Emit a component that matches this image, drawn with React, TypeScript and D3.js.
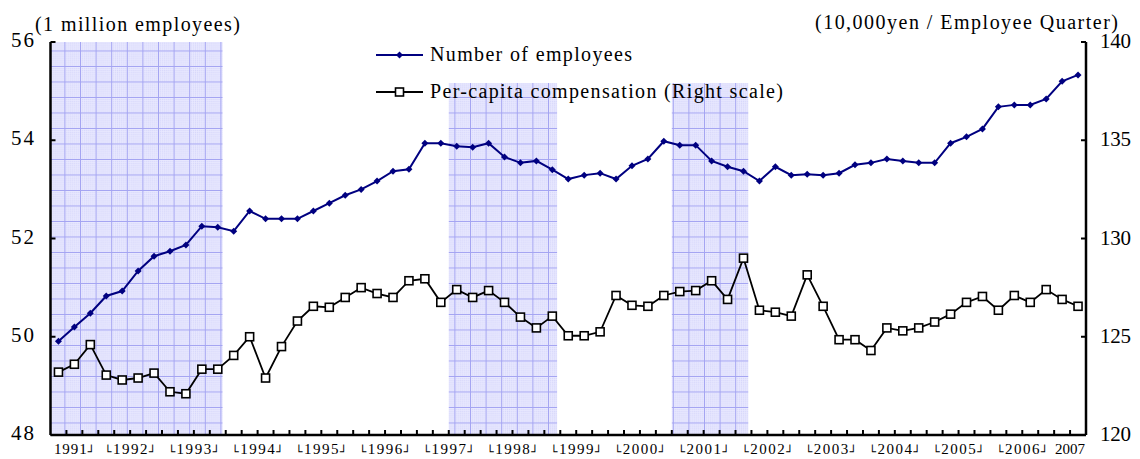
import React from "react";
import * as d3 from "d3";

// quarters 1991Q2 .. 2007Q2
const quarters = [
  "1991Q2", "1991Q3", "1991Q4",
  "1992Q1", "1992Q2", "1992Q3", "1992Q4",
  "1993Q1", "1993Q2", "1993Q3", "1993Q4",
  "1994Q1", "1994Q2", "1994Q3", "1994Q4",
  "1995Q1", "1995Q2", "1995Q3", "1995Q4",
  "1996Q1", "1996Q2", "1996Q3", "1996Q4",
  "1997Q1", "1997Q2", "1997Q3", "1997Q4",
  "1998Q1", "1998Q2", "1998Q3", "1998Q4",
  "1999Q1", "1999Q2", "1999Q3", "1999Q4",
  "2000Q1", "2000Q2", "2000Q3", "2000Q4",
  "2001Q1", "2001Q2", "2001Q3", "2001Q4",
  "2002Q1", "2002Q2", "2002Q3", "2002Q4",
  "2003Q1", "2003Q2", "2003Q3", "2003Q4",
  "2004Q1", "2004Q2", "2004Q3", "2004Q4",
  "2005Q1", "2005Q2", "2005Q3", "2005Q4",
  "2006Q1", "2006Q2", "2006Q3", "2006Q4",
  "2007Q1", "2007Q2",
];

// million employees (left scale)
const employees = [
  49.91, 50.2, 50.48,
  50.83, 50.93, 51.34, 51.64,
  51.74, 51.87, 52.25, 52.23,
  52.15, 52.56, 52.4, 52.4,
  52.4, 52.56, 52.72, 52.88,
  53.0, 53.17, 53.37, 53.41,
  53.94, 53.94, 53.88, 53.86,
  53.94, 53.66, 53.54, 53.58,
  53.4, 53.21, 53.29, 53.33,
  53.21, 53.48, 53.62, 53.98,
  53.9, 53.9, 53.58, 53.46,
  53.37, 53.17, 53.46, 53.29,
  53.31, 53.29, 53.33, 53.5,
  53.54, 53.62, 53.58, 53.54,
  53.54, 53.94, 54.07, 54.23,
  54.68, 54.72, 54.72, 54.84,
  55.2, 55.33,
];

// 10,000 yen per employee-quarter (right scale)
const compensation = [
  123.2, 123.6, 124.6,
  123.05, 122.8, 122.9, 123.15,
  122.2, 122.1, 123.35, 123.35,
  124.05, 125.0, 122.9, 124.5,
  125.8, 126.55, 126.5, 127.0,
  127.5, 127.2, 127.0, 127.85,
  127.95, 126.75, 127.4, 127.0,
  127.35, 126.75, 126.0, 125.45,
  126.05, 125.05, 125.05, 125.25,
  127.1, 126.6, 126.55, 127.1,
  127.3, 127.35, 127.85, 126.9,
  129.0, 126.35, 126.25, 126.05,
  128.15, 126.55, 124.85, 124.85,
  124.3, 125.45, 125.3, 125.45,
  125.75, 126.15, 126.75, 127.05,
  126.35, 127.1, 126.75, 127.4,
  126.9, 126.55,
];

const leftTicks = [48, 50, 52, 54, 56];
const rightTicks = [120, 125, 130, 135, 140];

// year labels with their bracket marks and the quarters they span
const yearLabels = [
  { pre: "", year: "1991", post: "┘", from: "1991Q2", to: "1991Q4" },
  { pre: "└", year: "1992", post: "┘", from: "1992Q1", to: "1992Q4" },
  { pre: "└", year: "1993", post: "┘", from: "1993Q1", to: "1993Q4" },
  { pre: "└", year: "1994", post: "┘", from: "1994Q1", to: "1994Q4" },
  { pre: "└", year: "1995", post: "┘", from: "1995Q1", to: "1995Q4" },
  { pre: "└", year: "1996", post: "┘", from: "1996Q1", to: "1996Q4" },
  { pre: "└", year: "1997", post: "┘", from: "1997Q1", to: "1997Q4" },
  { pre: "└", year: "1998", post: "┘", from: "1998Q1", to: "1998Q4" },
  { pre: "└", year: "1999", post: "┘", from: "1999Q1", to: "1999Q4" },
  { pre: "└", year: "2000", post: "┘", from: "2000Q1", to: "2000Q4" },
  { pre: "└", year: "2001", post: "┘", from: "2001Q1", to: "2001Q4" },
  { pre: "└", year: "2002", post: "┘", from: "2002Q1", to: "2002Q4" },
  { pre: "└", year: "2003", post: "┘", from: "2003Q1", to: "2003Q4" },
  { pre: "└", year: "2004", post: "┘", from: "2004Q1", to: "2004Q4" },
  { pre: "└", year: "2005", post: "┘", from: "2005Q1", to: "2005Q4" },
  { pre: "└", year: "2006", post: "┘", from: "2006Q1", to: "2006Q4" },
  { pre: "", year: "2007", post: "", from: "2007Q1", to: "2007Q2" },
];

// recession shading
const recessions = [
  ["1991Q2", "1993Q4"],
  ["1997Q3", "1999Q1"],
  ["2001Q1", "2002Q1"],
];

const W = 1140;
const H = 459;
const left = 50.5;
const right = 1086;
const top = 42;
const bottom = 435;
const font = "'Liberation Serif', 'Times New Roman', serif";

export default function App() {
  const x = d3.scaleBand().domain(quarters).range([left, right]).padding(0);
  const bw = x.bandwidth();
  const cx = (q: string) => (x(q) as number) + bw / 2;
  const yL = d3.scaleLinear().domain([48, 56]).range([bottom, top]);
  const yR = d3.scaleLinear().domain([120, 140]).range([bottom, top]);

  const empLine = d3
    .line<number>()
    .x((_, i) => cx(quarters[i]))
    .y((d) => yL(d))(employees);
  const compLine = d3
    .line<number>()
    .x((_, i) => cx(quarters[i]))
    .y((d) => yR(d))(compensation);

  return (
    <svg
      width={W}
      height={H}
      style={{ position: "absolute", left: 0, top: 0, background: "#fff" }}
      fontFamily={font}
    >
      <defs>
        <pattern id="dots" width={2} height={2} patternUnits="userSpaceOnUse">
          <rect width={2} height={2} fill="#eaeaff" />
          <rect width={1} height={1} fill="#d4d4fa" />
        </pattern>
        <pattern id="grid" width={15.6} height={15.5} patternUnits="userSpaceOnUse" x={2} y={4}>
          <rect width={15.6} height={15.5} fill="url(#dots)" />
          <path d="M0 0.5H15.6M0.5 0V15.5" stroke="#a4a4f2" strokeWidth={1} />
        </pattern>
      </defs>

      {recessions.map(([a, b]) => (
        <rect
          key={a}
          x={x(a)}
          y={top}
          width={(x(b) as number) + bw * 0.8 - (x(a) as number)}
          height={bottom - top}
          fill="url(#grid)"
        />
      ))}

      {/* legend box covers shading */}
      <rect x={368} y={top} width={428} height={41} fill="#fff" />

      {/* axes */}
      <line x1={left} x2={left} y1={top} y2={bottom} stroke="#000" strokeWidth={2.5} />
      <line x1={right} x2={right} y1={top} y2={bottom} stroke="#000" strokeWidth={2.5} />
      <line x1={left} x2={right} y1={bottom} y2={bottom} stroke="#000" strokeWidth={2.5} />
      {leftTicks.map((t) => (
        <g key={t}>
          <line x1={left} x2={left + 5} y1={yL(t)} y2={yL(t)} stroke="#000" strokeWidth={2} />
          <text x={34} y={yL(t) + 5} fontSize={21} textAnchor="end" textLength={23} lengthAdjust="spacing">
            {t}
          </text>
        </g>
      ))}
      {rightTicks.map((t) => (
        <g key={t}>
          <line x1={right - 5} x2={right} y1={yR(t)} y2={yR(t)} stroke="#000" strokeWidth={2} />
          <text x={1100} y={yR(t) + 6} fontSize={21} textLength={31} lengthAdjust="spacing">
            {t}
          </text>
        </g>
      ))}
      {quarters.slice(1).map((q) => (
        <line key={q} x1={x(q)} x2={x(q)} y1={bottom} y2={bottom - 5} stroke="#000" strokeWidth={2} />
      ))}
      {yearLabels.map((l) => {
        const mid = ((x(l.from) as number) + (x(l.to) as number) + bw) / 2;
        const len = (l.pre ? 11 : 0) + (l.post ? 11 : 0) + 30;
        return (
          <text
            key={l.year}
            x={mid}
            y={454}
            fontSize={15}
            textAnchor="middle"
            textLength={len}
            lengthAdjust="spacing"
          >
            {l.pre && (
              <tspan fontSize={12} dy={1.5} fontFamily="'DejaVu Sans'">
                {l.pre}
              </tspan>
            )}
            <tspan dy={l.pre ? -1.5 : 0}>{l.year}</tspan>
            {l.post && (
              <tspan fontSize={12} dy={1.5} fontFamily="'DejaVu Sans'">
                {l.post}
              </tspan>
            )}
          </text>
        );
      })}

      <text x={35} y={31} fontSize={20} textLength={205} lengthAdjust="spacing">
        (1 million employees)
      </text>
      <text x={815} y={29} fontSize={20} textLength={303} lengthAdjust="spacing">
        (10,000yen / Employee Quarter)
      </text>

      {/* series */}
      <path d={compLine ?? ""} fill="none" stroke="#000" strokeWidth={1.8} />
      {compensation.map((v, i) => (
        <rect
          key={i}
          x={cx(quarters[i]) - 4}
          y={yR(v) - 4}
          width={8}
          height={8}
          fill="#fff"
          stroke="#000"
          strokeWidth={1.6}
        />
      ))}
      <path d={empLine ?? ""} fill="none" stroke="#000080" strokeWidth={2} />
      {employees.map((v, i) => (
        <path
          key={i}
          d={`M${cx(quarters[i])},${yL(v) - 3.5}l3.5,3.5l-3.5,3.5l-3.5,-3.5z`}
          fill="#000080"
        />
      ))}

      {/* legend */}
      <line x1={376} x2={423} y1={55} y2={55} stroke="#000080" strokeWidth={2} />
      <path d="M399.5,51.5l3.5,3.5l-3.5,3.5l-3.5,-3.5z" fill="#000080" />
      <text x={430} y={61} fontSize={20} textLength={202} lengthAdjust="spacing">
        Number of employees
      </text>
      <line x1={376} x2={423} y1={92} y2={92} stroke="#000" strokeWidth={1.8} />
      <rect x={395.5} y={88} width={8} height={8} fill="#fff" stroke="#000" strokeWidth={1.6} />
      <text x={430} y={98} fontSize={20} textLength={353} lengthAdjust="spacing">
        Per-capita compensation (Right scale)
      </text>
    </svg>
  );
}
